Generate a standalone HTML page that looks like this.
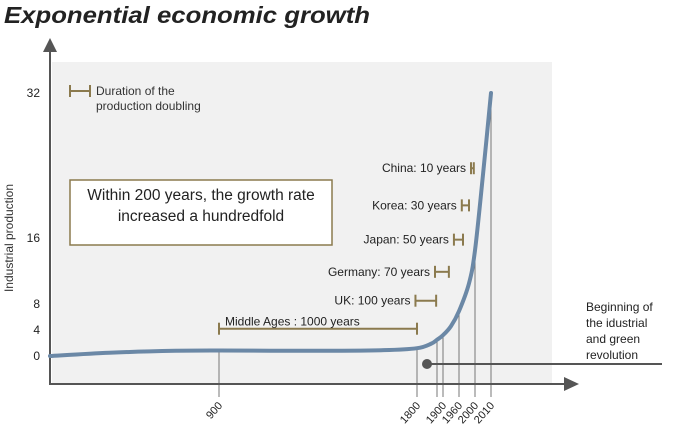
<!DOCTYPE html>
<html><head><meta charset="utf-8"><style>
html,body{margin:0;padding:0;background:#fff}
svg{display:block;font-family:"Liberation Sans","DejaVu Sans",sans-serif}
</style></head><body>
<svg id="chart" width="674" height="444" viewBox="0 0 674 444" xmlns="http://www.w3.org/2000/svg">
<text x="4" y="23" font-size="23" font-weight="bold" font-style="italic" fill="#222" textLength="366" lengthAdjust="spacingAndGlyphs">Exponential economic growth</text>
<rect x="52" y="62" width="500" height="321" fill="#f1f1f1"/>
<g id="grid"></g>
<line x1="50" y1="48" x2="50" y2="385" stroke="#555" stroke-width="2"/>
<polygon points="50,38 43,52 57,52" fill="#555"/>
<line x1="49" y1="384" x2="570" y2="384" stroke="#555" stroke-width="2"/>
<polygon points="579,384 564,377 564,391" fill="#555"/>
<text transform="translate(13,238) rotate(-90)" text-anchor="middle" font-size="12" fill="#333">Industrial production</text>
<g id="yticks" font-size="12" fill="#222"></g>
<g id="xticks" font-size="11" fill="#222"></g>
<path id="curve" fill="none" stroke="#6b88a6" stroke-width="4" stroke-linecap="round"/>
<g id="bars"></g>
<g>
<line x1="70" y1="91" x2="90" y2="91" stroke="#8b7a4e" stroke-width="2"/>
<line x1="70" y1="85" x2="70" y2="97" stroke="#8b7a4e" stroke-width="2"/>
<line x1="90" y1="85" x2="90" y2="97" stroke="#8b7a4e" stroke-width="2"/>
<text x="96" y="95" font-size="12" fill="#333">Duration of the</text>
<text x="96" y="110" font-size="12" fill="#333">production doubling</text>
</g>
<g>
<rect x="70" y="180" width="262" height="65" fill="#fff" stroke="#8b7a4e" stroke-width="1.5"/>
<text x="201" y="200" text-anchor="middle" font-size="15.5" fill="#222">Within 200 years, the growth rate</text>
<text x="201" y="221" text-anchor="middle" font-size="15.5" fill="#222">increased a hundredfold</text>
</g>
<g>
<line x1="427" y1="364" x2="662" y2="364" stroke="#555" stroke-width="2"/>
<circle cx="427" cy="364" r="5" fill="#555"/>
<text x="586" y="311" font-size="12" fill="#222">Beginning of</text>
<text x="586" y="327" font-size="12" fill="#222">the idustrial</text>
<text x="586" y="343" font-size="12" fill="#222">and green</text>
<text x="586" y="359" font-size="12" fill="#222">revolution</text>
</g>
</svg>
<script>
const yTickValues=[0,4,8,16,32];
const curveYears=[130,400,700,900,1300,1650,1800,1850,1870,1900,1930,1960,1985,2000,2005,2010];
const curveValues=[0,0.5,0.8,0.85,0.8,0.9,1.2,1.9,2.5,3.2,4.6,6.9,10.5,14.5,23,32];
const gridYears=[900,1800,1870,1900,1960,2000,2010];
const tickLabels=["900","1800","","1900","1960","2000","2010"];
const bandLabels=["Middle Ages : 1000 years","UK: 100 years","Germany: 70 years","Japan: 50 years","Korea: 30 years","China: 10 years"];
const bandStart=[900,1793,1863,1941,1967,1990];
const bandEnd=[1800,1867,1922,1970,1985,1997];
const bandLevel=[4.2,8.4,11.9,15.8,19.6,23.7];
const XB=[130,900,1800,1870,1900,1960,2000,2010],XP=[50,219,417,437,443,459,475,491];
const YB=[0,4,8,16,32],YP=[356,330,304,238,93];
function pw(v,B,P){for(let i=0;i<B.length-1;i++){if(v<=B[i+1]||i==B.length-2){return P[i]+(v-B[i])/(B[i+1]-B[i])*(P[i+1]-P[i]);}}}
function x(v){return pw(v,XB,XP);}
function y(v){return pw(v,YB,YP);}
function valAt(yr){for(let i=0;i<curveYears.length-1;i++){if(yr<=curveYears[i+1]){return curveValues[i]+(yr-curveYears[i])/(curveYears[i+1]-curveYears[i])*(curveValues[i+1]-curveValues[i]);}}return curveValues[curveValues.length-1];}
const NS="http://www.w3.org/2000/svg";
function mk(t,a,p){const e=document.createElementNS(NS,t);for(const k in a)e.setAttribute(k,a[k]);p.appendChild(e);return e;}
const yt=document.getElementById('yticks');
yTickValues.forEach(v=>{const t=mk('text',{x:40,y:y(v)+4,'text-anchor':'end'},yt);t.textContent=v;

});
const g=document.getElementById('grid'),xt=document.getElementById('xticks');
gridYears.forEach((yr,i)=>{const l=mk('line',{x1:x(yr),x2:x(yr),y1:y(valAt(yr)),y2:397,stroke:'#777','stroke-width':1},g);


if(tickLabels[i]){const t=mk('text',{transform:`translate(${x(yr)+4},${406}) rotate(-48)`,'text-anchor':'end'},xt);t.textContent=tickLabels[i];

}});
const pts=curveYears.map((yr,i)=>[x(yr),y(curveValues[i])]);
let d='M'+pts[0][0]+','+pts[0][1];
for(let i=0;i<pts.length-1;i++){const p0=pts[i-1]||pts[i],p1=pts[i],p2=pts[i+1],p3=pts[i+2]||p2;
d+=`C${p1[0]+(p2[0]-p0[0])/6},${p1[1]+(p2[1]-p0[1])/6} ${p2[0]-(p3[0]-p1[0])/6},${p2[1]-(p3[1]-p1[1])/6} ${p2[0]},${p2[1]}`;}
document.getElementById('curve').setAttribute('d',d);
const bg=document.getElementById('bars');
bandLabels.forEach((lab,i)=>{const gg=mk('g',{},bg);


const x1=x(bandStart[i]),x2=x(bandEnd[i]),yy=y(bandLevel[i]);
mk('line',{x1:x1,x2:x2,y1:yy,y2:yy,stroke:'#8b7a4e','stroke-width':2},gg);
mk('line',{x1:x1,x2:x1,y1:yy-6,y2:yy+6,stroke:'#8b7a4e','stroke-width':2},gg);
mk('line',{x1:x2,x2:x2,y1:yy-6,y2:yy+6,stroke:'#8b7a4e','stroke-width':2},gg);
const t=i==0?mk('text',{x:x1+6,y:yy-3,'font-size':12,fill:'#222'},gg):mk('text',{x:x1-5,y:yy+4,'font-size':12,fill:'#222','text-anchor':'end'},gg);
t.textContent=lab;});
</script>
</body></html>
